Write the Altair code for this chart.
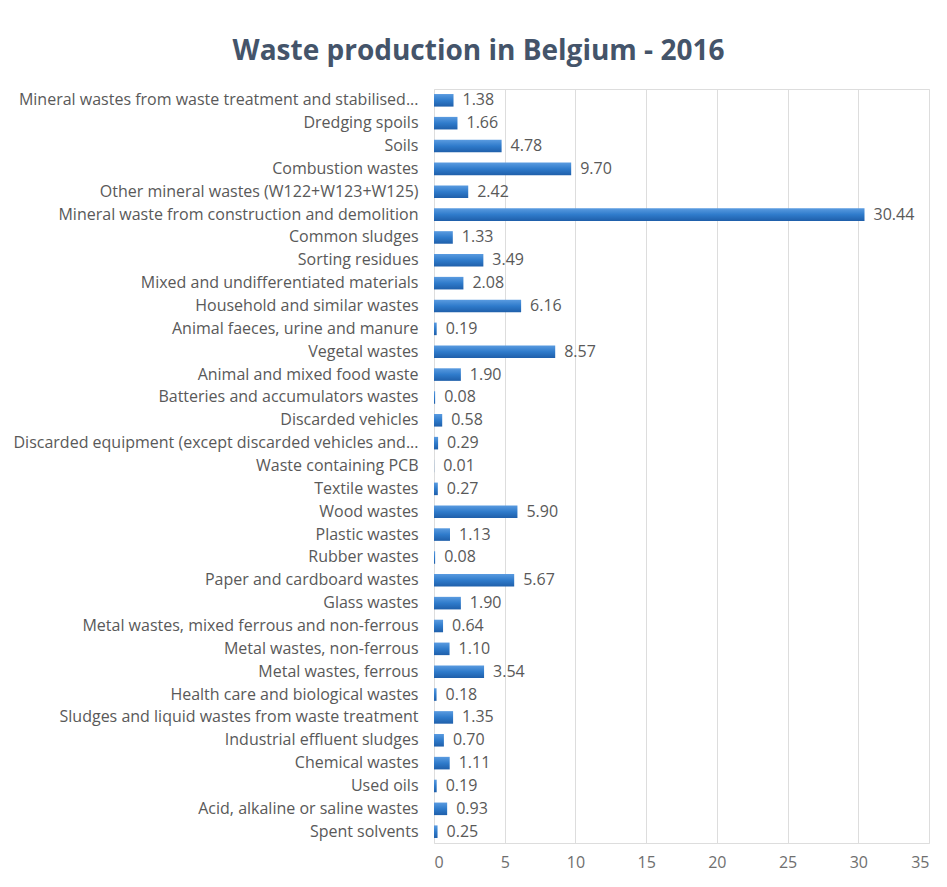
import altair as alt
import pandas as pd

categories = [
    "Mineral wastes from waste treatment and stabilised...",
    "Dredging spoils",
    "Soils",
    "Combustion wastes",
    "Other mineral wastes (W122+W123+W125)",
    "Mineral waste from construction and demolition",
    "Common sludges",
    "Sorting residues",
    "Mixed and undifferentiated materials",
    "Household and similar wastes",
    "Animal faeces, urine and manure",
    "Vegetal wastes",
    "Animal and mixed food waste",
    "Batteries and accumulators wastes",
    "Discarded vehicles",
    "Discarded equipment (except discarded vehicles and...",
    "Waste containing PCB",
    "Textile wastes",
    "Wood wastes",
    "Plastic wastes",
    "Rubber wastes",
    "Paper and cardboard wastes",
    "Glass wastes",
    "Metal wastes, mixed ferrous and non-ferrous",
    "Metal wastes, non-ferrous",
    "Metal wastes, ferrous",
    "Health care and biological wastes",
    "Sludges and liquid wastes from waste treatment",
    "Industrial effluent sludges",
    "Chemical wastes",
    "Used oils",
    "Acid, alkaline or saline wastes",
    "Spent solvents",
]
values = [1.38, 1.66, 4.78, 9.70, 2.42, 30.44, 1.33, 3.49, 2.08, 6.16, 0.19,
          8.57, 1.90, 0.08, 0.58, 0.29, 0.01, 0.27, 5.90, 1.13, 0.08, 5.67,
          1.90, 0.64, 1.10, 3.54, 0.18, 1.35, 0.70, 1.11, 0.19, 0.93, 0.25]
x_ticks = [0, 5, 10, 15, 20, 25, 30, 35]

df = pd.DataFrame({"category": categories, "value": values})

FONT = "Open Sans"
TXT = "#595959"

y_enc = alt.Y("category:N", sort=categories, title=None,
              scale=alt.Scale(paddingInner=0.45, paddingOuter=0.22),
              axis=alt.Axis(domain=False, ticks=False, labelPadding=16,
                            labelFontSize=16, labelColor=TXT, labelFont=FONT,
                            labelLimit=500))
x_enc = alt.X("value:Q", title=None,
              scale=alt.Scale(domain=[0, 35], nice=False),
              axis=alt.Axis(values=x_ticks, domain=False, ticks=False,
                            gridColor="#DDDDDD", gridWidth=1, labelPadding=11,
                            labelFontSize=16, labelColor="#6F6F6F", labelFont=FONT))

bars = alt.Chart(df).mark_bar(
    color=alt.Gradient(
        gradient="linear", x1=0, y1=0, x2=0, y2=1,
        stops=[alt.GradientStop(color="#5A9BE0", offset=0),
               alt.GradientStop(color="#2F7BCB", offset=0.5),
               alt.GradientStop(color="#1F5FAA", offset=1)],
    )
).encode(y=y_enc, x=x_enc)

labels = alt.Chart(df).mark_text(
    align="left", baseline="middle", dx=9, fontSize=16, color=TXT, font=FONT
).encode(y=alt.Y("category:N", sort=categories), x="value:Q",
         text=alt.Text("value:Q", format=".2f"))

chart = alt.layer(bars, labels).properties(
    width=495, height=754,
    padding={"left": 426, "top": 81, "right": 10, "bottom": 40},
    autosize=alt.AutoSizeParams(type="none"),
    title=alt.TitleParams("Waste production in Belgium - 2016", fontSize=28,
                          font=FONT, fontWeight="bold", color="#44546A",
                          anchor="middle", dx=-203, offset=23),
).configure_view(stroke=None).configure(background="white")

chart.save("out.html", embed_options={"renderer": "svg", "actions": False})
